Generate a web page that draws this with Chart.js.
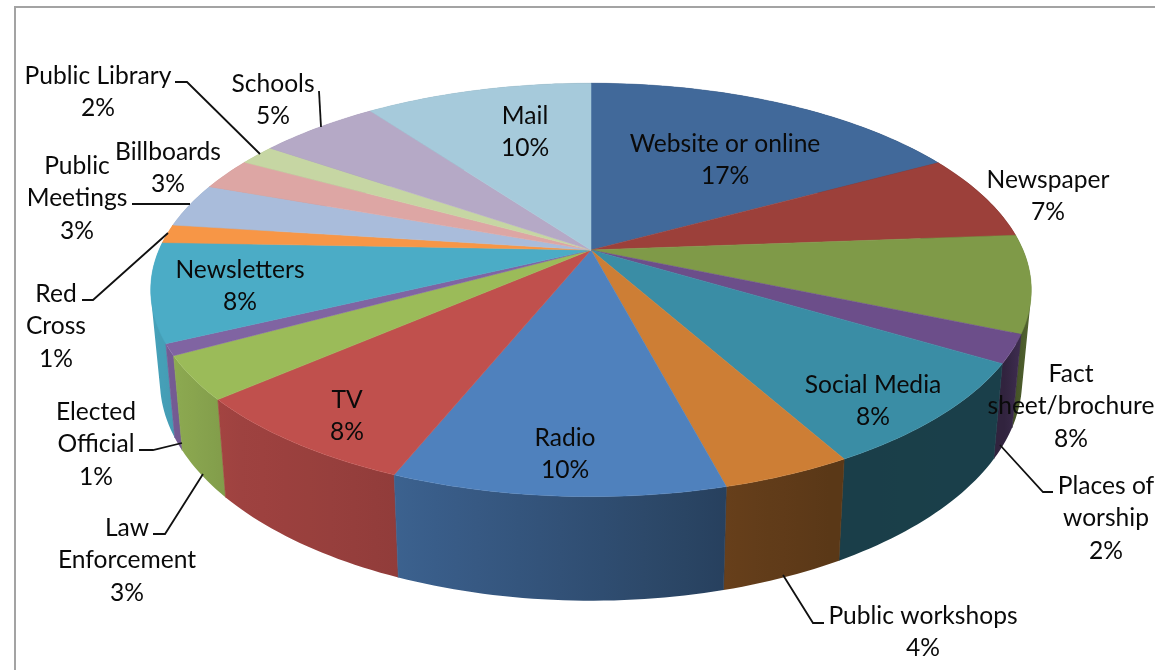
<!DOCTYPE html>
<html>
<head>
<meta charset="utf-8">
<style>
html, body { margin: 0; padding: 0; background: #fff; }
canvas { display: block; }
</style>
<script src="https://cdn.jsdelivr.net/npm/chart.js@4/dist/chart.umd.min.js"></script>
</head>
<body>
<canvas id="pie" width="1155" height="670"></canvas>
<script>
const categories = ['Website or online', 'Newspaper', 'Fact sheet/brochure', 'Places of worship', 'Social Media', 'Public workshops', 'Radio', 'TV', 'Law Enforcement', 'Elected Official', 'Newsletters', 'Red Cross', 'Public Meetings', 'Billboards', 'Public Library', 'Schools', 'Mail'];
// read from the slice boundaries, the labels show them rounded
const shares = [17.05, 6.75, 7.6, 2.2, 8.3, 4, 10.2, 7.5, 3.4, 0.9, 7.7, 1.45, 3.45, 2.5, 1.6, 5.35, 10.05];
const sliceColors = ['#41699a', '#9c403a', '#7f9a48', '#6c4e8a', '#3a8da5', '#cd7e35', '#4f81bd', '#c0504d', '#9bbb59', '#8064a2', '#4bacc6', '#f79646', '#a9bcdb', '#dda6a4', '#c6d6a3', '#b5a9c6', '#a6cadb'];

// label lines and centre of the first line, the percent goes on the last line
const labelLines = [['Website or online'], ['Newspaper'], ['Fact', 'sheet/brochure'], ['Places of', 'worship'], ['Social Media'], ['Public workshops'], ['Radio'], ['TV'], ['Law', 'Enforcement'], ['Elected', 'Official'], ['Newsletters'], ['Red', 'Cross'], ['Public', 'Meetings'], ['Billboards'], ['Public Library'], ['Schools'], ['Mail']];
const labelPos = [[725, 144], [1048, 180], [1071, 374], [1106, 486], [873, 385], [923, 616], [565, 438], [347, 400], [127, 528], [96, 412], [240, 270], [56, 294], [77, 166], [168, 152], [98, 76], [273, 84], [525, 116]];
const leaders = [
    [[175, 82], [187, 82], [260, 154]],
    [[319, 91], [321, 127]],
    [[132, 204], [190, 204]],
    [[82, 300], [93, 300], [168, 233]],
    [[139, 450], [153, 450], [182, 443]],
    [[153, 534], [165, 534], [203, 474]],
    [[1000, 445], [1043, 492], [1053, 492]],
    [[783, 575], [813, 623], [824, 623]]
];

// perspective of the top and bottom disc
const K = 0.193;
const topDisc = { cx: 591, cy: 250, a: 432, b: 199 };
const lowDisc = { cx: 591, cy: 338, a: 423, b: 212 };
const shadeStops = [[150, 0.94], [230, 0.83], [390, 0.76], [725, 0.5], [830, 0.44], [1005, 0.45], [1030, 0.66]];

function project(d, angle) {
    const u = Math.cos(angle), v = Math.sin(angle);
    const w = 1 - K * v;
    return [d.cx + d.a * u / w, d.cy + d.b * v / w];
}

function shadeAt(x) {
    if (x <= shadeStops[0][0]) return shadeStops[0][1];
    for (let i = 1; i < shadeStops.length; i++) {
        if (x <= shadeStops[i][0]) {
            const t = (x - shadeStops[i - 1][0]) / (shadeStops[i][0] - shadeStops[i - 1][0]);
            return shadeStops[i - 1][1] + t * (shadeStops[i][1] - shadeStops[i - 1][1]);
        }
    }
    return shadeStops[shadeStops.length - 1][1];
}

function darken(hex, f) {
    const n = parseInt(hex.slice(1), 16);
    return 'rgb(' + Math.round((n >> 16) * f) + ',' + Math.round(((n >> 8) & 255) * f) + ',' + Math.round((n & 255) * f) + ')';
}

function rimAngles(el) {
    const steps = Math.max(4, Math.ceil((el.endAngle - el.startAngle) / 0.02));
    const out = [];
    for (let i = 0; i <= steps; i++) out.push(el.startAngle + (el.endAngle - el.startAngle) * i / steps);
    return out;
}

// one path of same-wound strips, a plain polygon would cancel out where it folds at the silhouette
function drawWall(ctx, el, color) {
    const angles = rimAngles(el);
    const upper = angles.map(a => project(topDisc, a));
    const lower = angles.map(a => project(lowDisc, a));
    const xs = upper.concat(lower).map(q => q[0]);
    const x0 = Math.min.apply(null, xs), x1 = Math.max.apply(null, xs);
    const grad = ctx.createLinearGradient(x0, 0, x1, 0);
    for (let i = 0; i <= 8; i++) grad.addColorStop(i / 8, darken(color, shadeAt(x0 + (x1 - x0) * i / 8)));
    ctx.fillStyle = grad;
    ctx.strokeStyle = grad;
    ctx.lineWidth = 0.6;
    ctx.beginPath();
    for (let i = 0; i < angles.length - 1; i++) {
        const quad = [upper[i], upper[i + 1], lower[i + 1], lower[i]];
        let area = 0;
        quad.forEach((q, j) => {
            const r = quad[(j + 1) % 4];
            area += q[0] * r[1] - r[0] * q[1];
        });
        if (area < 0) quad.reverse();
        quad.forEach((q, j) => j ? ctx.lineTo(q[0], q[1]) : ctx.moveTo(q[0], q[1]));
        ctx.closePath();
    }
    ctx.fill();
    ctx.beginPath();
    ctx.moveTo(upper[0][0], upper[0][1]);
    ctx.lineTo(lower[0][0], lower[0][1]);
    ctx.moveTo(upper[upper.length - 1][0], upper[upper.length - 1][1]);
    ctx.lineTo(lower[lower.length - 1][0], lower[lower.length - 1][1]);
    ctx.stroke();
}

function drawTop(ctx, el, color) {
    ctx.fillStyle = color;
    ctx.strokeStyle = color;
    ctx.lineWidth = 0.5;
    ctx.beginPath();
    ctx.moveTo(topDisc.cx, topDisc.cy);
    rimAngles(el).forEach(a => {
        const q = project(topDisc, a);
        ctx.lineTo(q[0], q[1]);
    });
    ctx.closePath();
    ctx.fill();
    ctx.stroke();
}

const pie3d = {
    id: 'pie3d',
    beforeDraw(chart) {
        const ctx = chart.ctx;
        ctx.save();
        ctx.fillStyle = '#fff';
        ctx.fillRect(0, 0, 1155, 670);
        ctx.strokeStyle = '#a3a3a3';
        ctx.lineWidth = 2;
        ctx.beginPath();
        ctx.moveTo(15, 670);
        ctx.lineTo(15, 7);
        ctx.lineTo(1155, 7);
        ctx.stroke();
        ctx.restore();
    },
    // the arcs keep their angles from the library, only their drawing is tilted here
    beforeDatasetsDraw(chart) {
        const ctx = chart.ctx;
        const arcs = chart.getDatasetMeta(0).data;
        ctx.save();
        const mid = i => Math.sin((arcs[i].startAngle + arcs[i].endAngle) / 2);
        arcs.map((el, i) => i).sort((p, q) => mid(p) - mid(q))
            .forEach(i => drawWall(ctx, arcs[i], arcs[i].options.backgroundColor));
        arcs.forEach(el => drawTop(ctx, el, el.options.backgroundColor));
        ctx.restore();
        return false;
    },
    afterDraw(chart) {
        const ctx = chart.ctx;
        ctx.save();
        ctx.strokeStyle = '#111';
        ctx.lineWidth = 1.8;
        leaders.forEach(pts => {
            ctx.beginPath();
            pts.forEach((q, j) => j ? ctx.lineTo(q[0], q[1]) : ctx.moveTo(q[0], q[1]));
            ctx.stroke();
        });
        ctx.fillStyle = '#0a0a0a';
        ctx.font = '24.6px Lato, sans-serif';
        ctx.textAlign = 'center';
        ctx.textBaseline = 'middle';
        labelLines.forEach((lines, i) => {
            const x = labelPos[i][0];
            let y = labelPos[i][1];
            lines.concat(Math.round(shares[i]) + '%').forEach(t => {
                ctx.fillText(t, x, y);
                y += 32.3;
            });
        });
        ctx.restore();
    }
};

new Chart(document.getElementById('pie'), {
    type: 'pie',
    data: {
        labels: categories,
        datasets: [{ data: shares, backgroundColor: sliceColors, borderWidth: 0 }]
    },
    options: {
        responsive: false,
        animation: false,
        plugins: { legend: { display: false }, tooltip: { enabled: false } }
    },
    plugins: [pie3d]
});
</script>
</body>
</html>
